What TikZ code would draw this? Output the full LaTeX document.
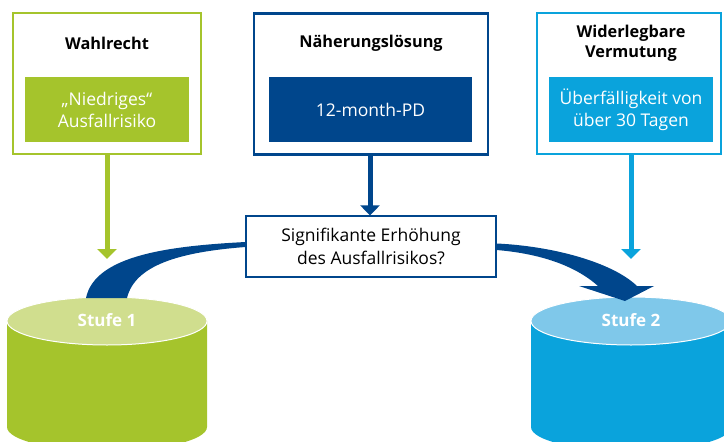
\documentclass[tikz,border=0pt]{standalone}
\usepackage{fontspec}
\setmainfont{Open Sans}
\usepackage{tikz}
\usetikzlibrary{arrows.meta, positioning}
\definecolor{kgreen}{RGB}{165,196,44}
\definecolor{kgreenlt}{RGB}{208,222,142}
\definecolor{kblue}{RGB}{0,70,140}
\definecolor{kcyan}{RGB}{10,163,220}
\definecolor{kcyanlt}{RGB}{127,200,234}
\tikzset{
  frame/.style={rectangle, draw, fill=white, line width=2.6pt,
    minimum height=141pt, inner sep=0pt},
  title/.style={font=\bfseries\fontsize{16.3}{20}\selectfont, align=center},
  inbox/.style={rectangle, inner sep=0pt, text=white, align=center,
    minimum height=65pt, font=\fontsize{17.5}{22}\selectfont},
  qbox/.style={rectangle, draw=kblue, fill=white, line width=1.2pt,
    minimum width=250pt, minimum height=61pt, align=center,
    font=\fontsize{17.5}{23}\selectfont},
  stufe/.style={font=\bfseries\fontsize{17}{18}\selectfont, text=white},
  downarrow/.style={line width=5pt, -{Triangle[width=19pt,length=10pt]}}
}

\begin{document}
\begin{tikzpicture}[x=1pt, y=-1pt]
  \useasboundingbox (0,0) rectangle (724,442);
  \clip (0,0) rectangle (724,442);
  % Stufe 1 und Stufe 2
  \fill[kgreen] (7,321) -- (7,427) arc[start angle=180, end angle=360, x radius=100, y radius=-24] -- (207,321) -- cycle;
  \filldraw[fill=kgreenlt, draw=white, line width=1pt] (107,321) ellipse[x radius=100, y radius=24];
  \fill[kcyan] (531,321) -- (531,427) arc[start angle=180, end angle=360, x radius=100, y radius=-24] -- (731,321) -- cycle;
  \filldraw[fill=kcyanlt, draw=white, line width=1pt] (631,321) ellipse[x radius=100, y radius=24];
  \node[stufe] (s1) at (107,320) {Stufe 1};
  \node[stufe] (s2) at (631,320) {Stufe 2};
  \coordinate (s1top) at (107,259);
  \coordinate (s2top) at (631,259);

  % Kaesten
  \node[frame, draw=kgreen, minimum width=188pt] (wahl) at (107,83.5) {};
  \node[title] (wahlt) at (107,43) {Wahlrecht};
  \node[inbox, fill=kgreen, minimum width=164pt] (wahlin) at (107,109.5) {„Niedriges“\\Ausfallrisiko};

  \node[frame, draw=kblue, minimum width=234pt] (naeh) at (371,84) {};
  \node[title] (naeht) at (371,43) {Näherungslösung};
  \node[inbox, fill=kblue, minimum width=203pt] (naehin) at (370.5,109.5) {12-month-PD};

  \node[frame, draw=kcyan, minimum width=184pt] (wider) at (629,83.5) {};
  \node[title] (widert) at (631,43) {Widerlegbare\\Vermutung};
  \node[inbox, fill=kcyan, minimum width=164pt] (widerin) at (631,109.5) {Überfälligkeit von\\über 30 Tagen};

  \node[qbox] (frage) at (371,246.5) {Signifikante Erhöhung\\des Ausfallrisikos?};

  % Pfeile
  \draw[downarrow, kgreen] (wahl.south) -- (s1top);
  \draw[downarrow, kcyan] (wider.south -| s2top) -- (s2top);
  \draw[downarrow, kblue] (naeh.south -| 370,0) -- (frage.north -| 370,0);

  \fill[kblue] (86,298) .. controls (95,255) and (170,246) .. ([yshift=4.5pt]frage.west)
    -- ([yshift=-0.5pt]frage.west) .. controls (180,252) and (135,265) .. (127,298) -- cycle;
  \fill[kblue] ([yshift=3pt]frage.east) .. controls (552,246) and (612,262) .. (637,286)
    -- (654,286) -- (625,301) -- (579,286) -- (598,286)
    .. controls (578,268) and (545,254) .. ([yshift=-3.5pt]frage.east) -- cycle;
\end{tikzpicture}
\end{document}
